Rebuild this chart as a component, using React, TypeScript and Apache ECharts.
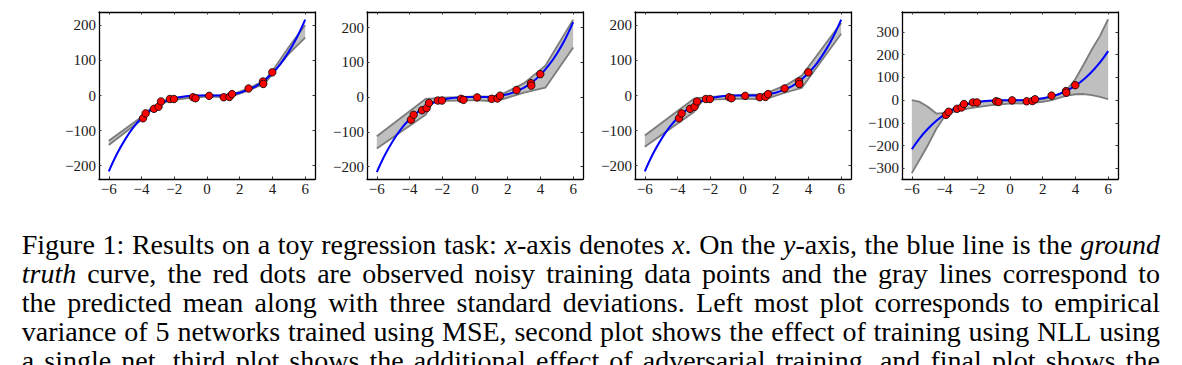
import React, { useEffect, useRef } from "react";
import * as echarts from "echarts";

// ---------- data ----------
const X_TICKS = [-6, -4, -2, 0, 2, 4, 6];
const Y_TICKS_STD = [-200, -100, 0, 100, 200];
const Y_TICKS_WIDE = [-300, -200, -100, 0, 100, 200, 300];

// ground-truth curve (blue)
const TRUTH_X = [-6, -5.5, -5, -4.5, -4, -3.5, -3, -2.5, -2, -1.5, -1, -0.5, 0, 0.5, 1, 1.5, 2, 2.5, 3, 3.5, 4, 4.5, 5, 5.5, 6];
const TRUTH_Y = [-216, -166, -125, -91, -64, -43, -27, -16, -8, -3.4, -1, -0.1, 0, 0.1, 1, 3.4, 8, 16, 27, 43, 64, 91, 125, 166, 216];

// observed noisy training points (red)
const OBS_X = [-3.91, -3.75, -3.24, -2.96, -2.81, -2.27, -2.02, -0.85, -0.7, 0.13, 1.02, 1.37, 1.53, 2.54, 3.42, 3.44, 3.99];
const OBS_Y = [-65, -51, -38, -32, -17, -10, -10, -5, -8, -1, -5, -4, 4, 20, 40, 33, 66];

// panel 1: empirical variance of 5 MSE networks
const BAND1_X = [-6, -4, -3.5, -3, -2.3, -1, 0, 1.2, 1.6, 2.5, 3.5, 4, 5, 6];
const BAND1_UP = [-129, -61, -40, -24, -9, -2, 0, 0, 4, 20, 42, 70, 138, 201];
const BAND1_LO = [-141, -69, -46, -30, -14, -7, -3, -4, -1, 14, 33, 61, 119, 165];

// panel 2: NLL single net
const BAND2_X = [-6, -3, -2.6, -2, -1, 0, 1.1, 1.5, 3, 4.3, 6];
const BAND2_UP = [-113, -5, -4, -2, 0, 2, 1, 5, 40, 90, 223];
const BAND2_LO = [-148, -50, -15, -11, -10, -9, -12, -9, 13, 27, 143];

// panel 3: NLL + adversarial training
const BAND3_X = [-6, -3, -2.5, -2, 0, 1.1, 1.5, 2.7, 3.6, 6];
const BAND3_UP = [-114, -9, -6, -4, 2, 3, 8, 31, 57, 207];
const BAND3_LO = [-146, -47, -16, -12, -9, -11, -8, 10, 22, 176];

// panel 4: ensemble
const BAND4_X = [-6, -5.5, -5, -4.5, -4, -3.5, -3, -2.5, -2, -1, 0, 1, 2, 2.5, 3, 3.5, 4, 4.5, 5, 5.5, 6];
const BAND4_UP = [0, -8, -30, -59, -56, -38, -24, -13, -8, -3, -1, -1, 5, 14, 25, 48, 93, 157, 223, 283, 356];
const BAND4_LO = [-321, -259, -196, -126, -72, -53, -44, -36, -31, -21, -15, -14, -7, -1, 10, 20, 26, 27, 22, 14, 4];

const CAPTION_LINES = [
  "Figure 1: Results on a toy regression task: *x*-axis denotes *x*. On the *y*-axis, the blue line is the *ground*",
  "*truth* curve, the red dots are observed noisy training data points and the gray lines correspond to",
  "the predicted mean along with three standard deviations. Left most plot corresponds to empirical",
  "variance of 5 networks trained using MSE, second plot shows the effect of training using NLL using",
  "a single net, third plot shows the additional effect of adversarial training, and final plot shows the",
];

// ---------- layout ----------
const PANELS = [
  { xs: BAND1_X, up: BAND1_UP, lo: BAND1_LO, yMin: -238, yMax: 238, yTicks: Y_TICKS_STD, left: 99 },
  { xs: BAND2_X, up: BAND2_UP, lo: BAND2_LO, yMin: -236, yMax: 245, yTicks: Y_TICKS_STD, left: 367 },
  { xs: BAND3_X, up: BAND3_UP, lo: BAND3_LO, yMin: -238, yMax: 238, yTicks: Y_TICKS_STD, left: 635 },
  { xs: BAND4_X, up: BAND4_UP, lo: BAND4_LO, yMin: -347, yMax: 388, yTicks: Y_TICKS_WIDE, left: 902 },
];
const GRID_TOP = 12;
const GRID_W = 216;
const GRID_H = 167;

const TICK_FONT = "Liberation Serif";
const TICK_FS = 15;
const CAP_FONT = "Liberation Serif";
const CAP_FS = 28;
const CAP_LEFT = 21.7;
const CAP_RIGHT = 1160;
const CAP_BASELINE0 = 254;
const CAP_LEAD = 29;

const fmt = (v: number) => (v < 0 ? "\u2212" + Math.abs(v) : String(v));

function buildCaption(): any[] {
  const span = document.createElement("span");
  span.style.position = "absolute";
  span.style.visibility = "hidden";
  span.style.whiteSpace = "pre";
  span.style.fontFamily = CAP_FONT;
  span.style.fontSize = CAP_FS + "px";
  span.style.left = "0px";
  span.style.top = "0px";
  document.body.appendChild(span);
  const measure = (t: string, italic: boolean) => {
    span.style.fontStyle = italic ? "italic" : "normal";
    span.textContent = t;
    return span.getBoundingClientRect().width;
  };
  const els: any[] = [];
  CAPTION_LINES.forEach((line, li) => {
    const words = line.split(" ").map((w) => {
      const parts = w.split("*");
      const runs = parts
        .map((p, i) => ({ text: p, italic: i % 2 === 1 }))
        .filter((r) => r.text.length > 0)
        .map((r) => ({ ...r, w: measure(r.text, r.italic) }));
      return { runs, w: runs.reduce((s, r) => s + r.w, 0) };
    });
    const total = words.reduce((s, w) => s + w.w, 0);
    const gap = (CAP_RIGHT - CAP_LEFT - total) / (words.length - 1);
    let x = CAP_LEFT;
    // 'middle' puts the em-box centre (≈0.3375em above the baseline) at y
    const y = CAP_BASELINE0 + li * CAP_LEAD - 0.3375 * CAP_FS;
    words.forEach((w) => {
      let rx = x;
      w.runs.forEach((r) => {
        els.push({
          type: "text",
          x: rx,
          y: y,
          silent: true,
          style: {
            text: r.text,
            fontFamily: CAP_FONT,
            fontSize: CAP_FS,
            fontStyle: r.italic ? "italic" : "normal",
            fill: "#000",
            align: "left",
            verticalAlign: "middle",
            lineHeight: CAP_LEAD - 1,
          },
        });
        rx += r.w;
      });
      x += w.w + gap;
    });
  });
  document.body.removeChild(span);
  return els;
}

export default function App() {
  const ref = useRef<HTMLDivElement>(null);
  useEffect(() => {
    if (!ref.current) return;
    const chart = echarts.init(ref.current, undefined, { renderer: "svg" });

    const grid: any[] = [];
    const xAxis: any[] = [];
    const yAxis: any[] = [];
    const series: any[] = [];
    const axisLine = { show: true, onZero: false, lineStyle: { color: "#000", width: 1.3 } };
    const tick = (vals: number[]) => ({
      show: true,
      inside: true,
      length: 2.5,
      customValues: vals,
      lineStyle: { color: "#333", width: 1 },
    });

    PANELS.forEach((p, i) => {
      grid.push({ left: p.left, top: GRID_TOP, width: GRID_W, height: GRID_H, containLabel: false, outerBoundsMode: "none" });
      xAxis.push({
        type: "value", gridIndex: i, min: -6.6, max: 6.6, position: "bottom",
        axisLine, axisTick: tick(X_TICKS), splitLine: { show: false },
        axisLabel: { customValues: X_TICKS, formatter: fmt, fontFamily: TICK_FONT, fontSize: TICK_FS, color: "#1a1a1a", margin: 2 },
      });
      xAxis.push({
        type: "value", gridIndex: i, min: -6.6, max: 6.6, position: "top",
        axisLine, axisTick: tick(X_TICKS), splitLine: { show: false }, axisLabel: { show: false },
      });
      yAxis.push({
        type: "value", gridIndex: i, min: p.yMin, max: p.yMax, position: "left",
        axisLine, axisTick: tick(p.yTicks), splitLine: { show: false },
        axisLabel: { customValues: p.yTicks, formatter: fmt, fontFamily: TICK_FONT, fontSize: TICK_FS, color: "#1a1a1a", margin: 3 },
      });
      yAxis.push({
        type: "value", gridIndex: i, min: p.yMin, max: p.yMax, position: "right",
        axisLine, axisTick: tick(p.yTicks), splitLine: { show: false }, axisLabel: { show: false },
      });
      const xi = 2 * i;
      const yi = 2 * i;
      const edge = { color: "#7c7c7c", width: 1.8 };
      // shaded band between upper and lower gray lines
      series.push({
        type: "custom", coordinateSystem: "cartesian2d", xAxisIndex: xi, yAxisIndex: yi,
        data: [[p.xs[0], p.lo[0]]], z: 2, silent: true,
        renderItem: (_params: any, api: any) => {
          const pts: number[][] = [];
          p.xs.forEach((x, k) => pts.push(api.coord([x, p.up[k]])));
          for (let k = p.xs.length - 1; k >= 0; k--) pts.push(api.coord([p.xs[k], p.lo[k]]));
          return { type: "polygon", shape: { points: pts }, style: { fill: "#bfbfbf", stroke: "none" } };
        },
      });
      series.push({
        type: "line", xAxisIndex: xi, yAxisIndex: yi,
        data: p.xs.map((x, k) => [x, p.up[k]]), symbol: "none",
        lineStyle: edge, z: 3, silent: true,
      });
      series.push({
        type: "line", xAxisIndex: xi, yAxisIndex: yi,
        data: p.xs.map((x, k) => [x, p.lo[k]]), symbol: "none",
        lineStyle: edge, z: 3, silent: true,
      });
      series.push({
        type: "line", xAxisIndex: xi, yAxisIndex: yi,
        data: TRUTH_X.map((x, k) => [x, TRUTH_Y[k]]), symbol: "none", smooth: 0.4,
        lineStyle: { color: "#0000ff", width: 2 }, z: 4, silent: true,
      });
      series.push({
        type: "scatter", xAxisIndex: xi, yAxisIndex: yi,
        data: OBS_X.map((x, k) => [x, OBS_Y[k]]), symbol: "circle", symbolSize: 7.5,
        itemStyle: { color: "#ff0000", borderColor: "#000", borderWidth: 0.8, opacity: 1 }, z: 5, silent: true,
      });
    });

    chart.setOption({
      animation: false,
      backgroundColor: "#fff",
      grid,
      xAxis,
      yAxis,
      series,
      graphic: { elements: buildCaption() },
    });
    return () => chart.dispose();
  }, []);
  return (
    <div
      ref={ref}
      style={{ position: "absolute", left: 0, top: 0, width: 1182, height: 365, background: "#fff" }}
    />
  );
}
